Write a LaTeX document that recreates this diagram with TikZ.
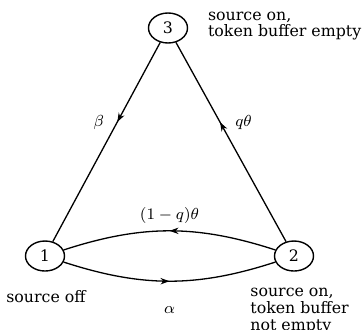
\documentclass[tikz,border=0pt]{standalone}
\usepackage{fontspec}
\setmainfont{DejaVu Serif}
\usepackage{tikz}
\usetikzlibrary{
  arrows.meta,
  shapes.geometric,
  decorations.markings
}

\begin{document}
\begin{tikzpicture}[
    x=0.5pt, y=0.5pt,
    every node/.style={font=\fontsize{7.9}{8.3}\selectfont},
    state/.style={draw,ellipse,line width=0.7pt,minimum width=19.5pt,minimum height=15pt,inner sep=0pt},
    link/.style={line width=0.65pt},
    arrowat/.style={postaction={decorate},decoration={markings,
      mark=at position #1 with {\arrow{Stealth[length=4.5pt,width=3.2pt]}}}}
  ]
    \useasboundingbox (0,0) rectangle (362,329);
    % states
    \node[state] (s3) at (168,301) {3};
    \node[state] (s1) at (45,73) {1};
    \node[state] (s2) at (294,73) {2};
    % state descriptions
    \node[anchor=west,align=left] (d3) at (201,303) {source on,\\token buffer empty};
    \node (d1) at (46,32) {source off};
    \node[anchor=north west,align=left,inner sep=0pt] (d2) at (250,41) {source on,\\token buffer\\not empty};
    % transitions
    \draw[link,arrowat=0.4] (s3) -- node[pos=0.4,left=3pt] (lb) {$\beta$} (s1);
    \draw[link,arrowat=0.6] (s2) -- node[pos=0.6,right=4pt] (lq) {$q\theta$} (s3);
    \draw[link,arrowat=0.5] (s2) to[out=162,in=18] node[above=0pt] (lt) {$(1-q)\theta$} (s1);
    \draw[link,arrowat=0.5] (s1) to[out=-18,in=198] node[below=9pt] (la) {$\alpha$} (s2);
  \end{tikzpicture}
\end{document}
